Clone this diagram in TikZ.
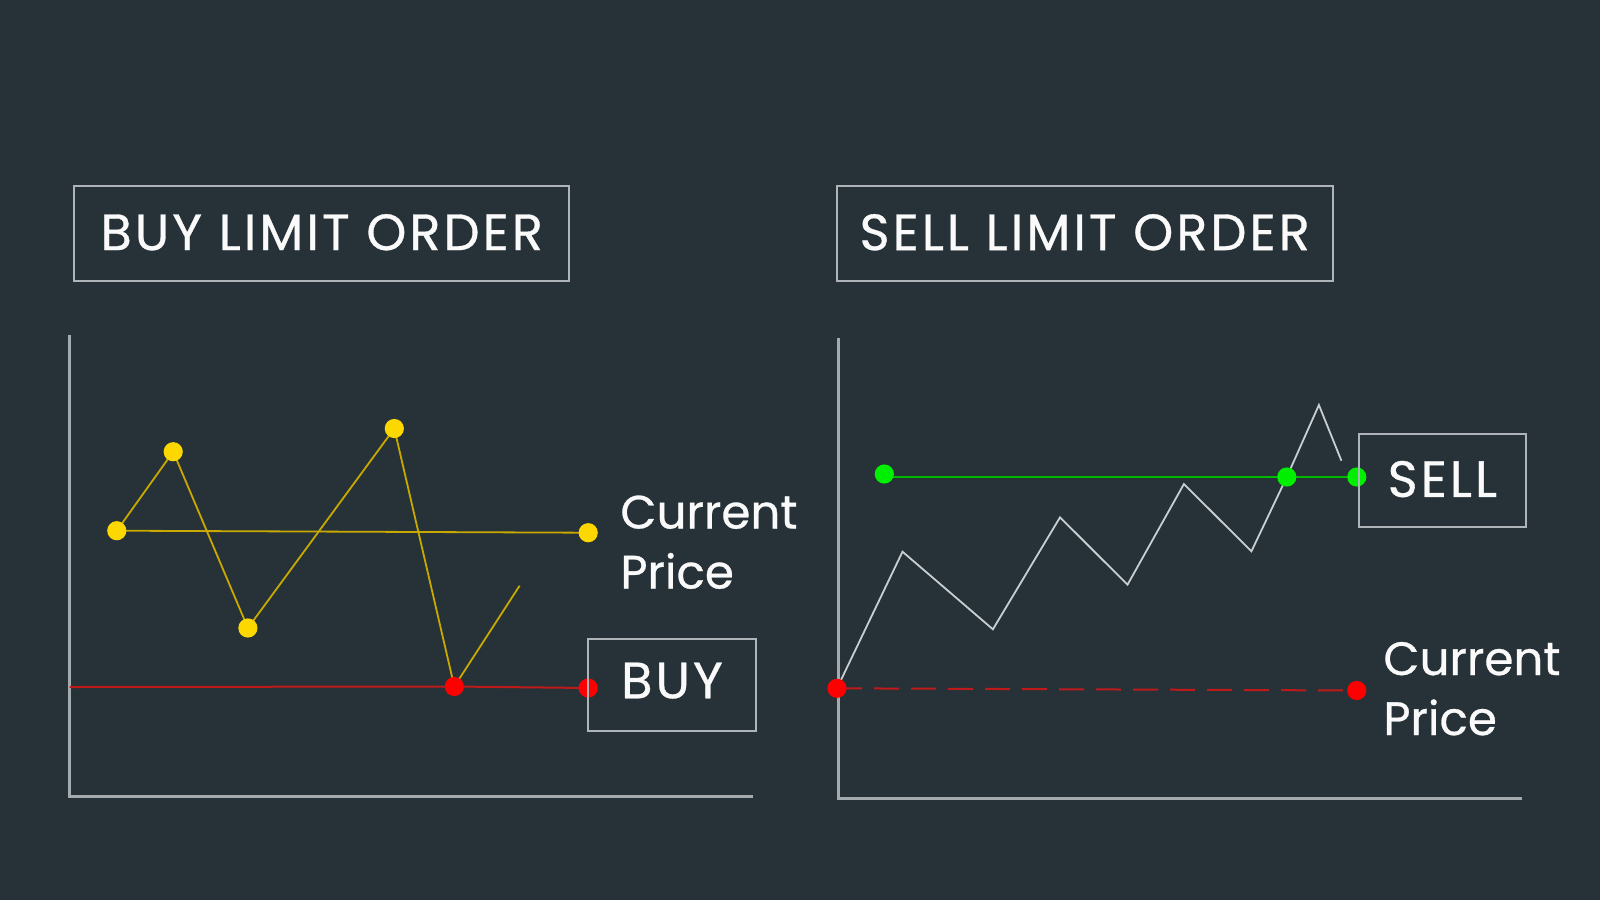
\documentclass[tikz,border=0pt]{standalone}
\usepackage{fontspec}
\setmainfont{Poppins}
\newfontfamily\capsfont{Poppins}[LetterSpace=6, FakeBold=0.6]
\newfontfamily\labelfont{Poppins}[FakeBold=0.6]
\usetikzlibrary{backgrounds}
\definecolor{bgc}{HTML}{263238}
\definecolor{axisc}{HTML}{A3ABAF}
\definecolor{boxc}{HTML}{AEB4B7}
\definecolor{zigc}{HTML}{C9CED0}
\definecolor{ydotc}{HTML}{FDD700}
\definecolor{ylinec}{HTML}{C9A900}
\definecolor{rdotc}{HTML}{FF0000}
\definecolor{rlinec}{HTML}{BE1A1A}
\definecolor{gdotc}{HTML}{00EE00}
\definecolor{glinec}{HTML}{00B800}
\definecolor{txtc}{HTML}{FAFAFA}
\tikzset{
  dotnode/.style={circle, inner sep=0pt, minimum size=9.6pt},
  ydot/.style={dotnode, fill=ydotc},
  rdot/.style={dotnode, fill=rdotc},
  gdot/.style={dotnode, fill=gdotc},
  framebox/.style={draw=boxc, line width=1pt, text=txtc, inner sep=0pt, font=\capsfont\fontsize{25.5}{30}\selectfont},
  lbl/.style={text=txtc, inner sep=0pt, align=left, font=\labelfont\fontsize{23.4}{30}\selectfont},
  axisline/.style={draw=axisc, line width=1.2pt},
  yline/.style={draw=ylinec, line width=0.9pt},
  rline/.style={draw=rlinec, line width=1pt},
  gline/.style={draw=glinec, line width=1.1pt},
  zigline/.style={draw=zigc, line width=0.9pt, line join=miter},
}
\begin{document}
\begin{tikzpicture}[x=0.5pt,y=-0.5pt]
\useasboundingbox (0,0) rectangle (1600,900);

% ---------- titles ----------
\node[framebox, minimum width=247.7pt, minimum height=47.7pt, text depth=1.2pt] (t1) at (321.7,233.3) {BUY LIMIT ORDER};
\node[framebox, minimum width=248pt, minimum height=47.7pt, text depth=1.2pt] (t2) at (1084.7,233.3) {SELL LIMIT ORDER};

% ---------- left chart ----------
\coordinate (lAxTop) at (69.6,335);
\coordinate (lAxO) at (69.6,796.5);
\coordinate (lAxEnd) at (753,796.5);
\coordinate (lRedStart) at (69.6,687);
\coordinate (lEnd) at (519.6,585.7);
\node[ydot] (yA) at (116.8,530.7) {};
\node[ydot] (yB) at (173.2,451.7) {};
\node[ydot] (yC) at (247.9,628) {};
\node[ydot] (yD) at (394.3,428.5) {};
\node[ydot] (yG) at (588.2,532.7) {};
\node[rdot] (rE) at (454.3,686.5) {};
\node[rdot] (rH) at (588.2,688) {};
\node[framebox, minimum width=83.7pt, minimum height=46pt, text depth=4.5pt] (buy) at (672,685) {BUY};
\node[lbl, anchor=base west] (cpL) at (620,588.5) {Current\\Price};

% ---------- right chart ----------
\coordinate (rAxTop) at (838.6,337.5);
\coordinate (rAxO) at (838.6,798.3);
\coordinate (rAxEnd) at (1521.7,798.3);
\coordinate (z1) at (902.5,551.7);
\coordinate (z2) at (992.9,629.3);
\coordinate (z3) at (1060,517.3);
\coordinate (z4) at (1127.5,584.7);
\coordinate (z5) at (1183.9,484);
\coordinate (z6) at (1251.4,551.3);
\coordinate (z7) at (1318.9,405);
\coordinate (z8) at (1341.4,460.7);
\node[rdot] (rL) at (837,688.3) {};
\node[rdot] (rR) at (1356.8,690.5) {};
\node[gdot] (gL) at (884.3,474) {};
\node[gdot] (gM) at (1286.8,477) {};
\node[gdot] (gR) at (1356.8,477) {};
\node[framebox, minimum width=83.4pt, minimum height=46.3pt, text depth=1.5pt] (sell) at (1442.4,480.4) {SELL};
\node[lbl, anchor=base west] (cpR) at (1383,735) {Current\\Price};

% ---------- lines behind ----------
\begin{pgfonlayer}{background}
\fill[bgc] (0,0) rectangle (1600,900);
\draw[axisline] (lAxTop) -- (lAxO) -- (lAxEnd);
\draw[axisline] (rAxTop) -- (rAxO) -- (rAxEnd);
\draw[rline] (lRedStart) -- (rE.center) -- (rH.center);
\draw[yline] (yA.center) -- (yG.center);
\draw[yline, line join=miter] (yA.center) -- (yB.center) -- (yC.center) -- (yD.center) -- (rE.center) -- (lEnd);
\draw[gline] (gL.center |- gM.center) -- (gM.center) -- (gR.center);
\draw[rline, dash pattern=on 12.5pt off 6pt] (rL.center) -- (rR.center);
\draw[zigline] (rL.center) -- (z1) -- (z2) -- (z3) -- (z4) -- (z5) -- (z6) -- (gM.center) -- (z7) -- (z8);
\end{pgfonlayer}
\end{tikzpicture}
\end{document}
